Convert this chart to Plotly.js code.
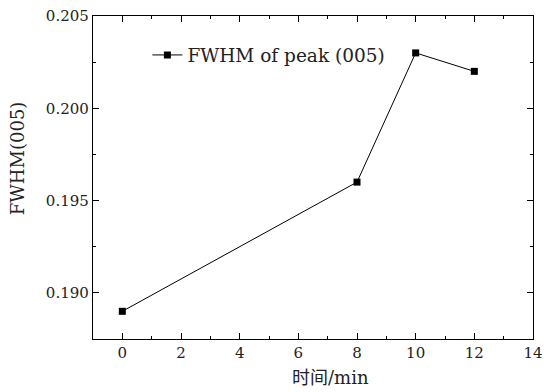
<!DOCTYPE html>
<html><head><meta charset="utf-8">
<script src="https://cdn.plot.ly/plotly-3.0.1.min.js"></script>
<style>html,body{margin:0;padding:0;background:#fff}</style>
</head><body>
<div id="chart" style="width:544px;height:392px"></div>
<script>
const timeMin = [0, 8, 10, 12];
const fwhm = [0.189, 0.196, 0.203, 0.202];
const seriesName = "FWHM of peak (005)";
const xTickVals = [0, 2, 4, 6, 8, 10, 12, 14];
const yTickVals = [0.190, 0.195, 0.200, 0.205];
const yTickText = ["0.190", "0.195", "0.200", "0.205"];
const xTitle = "时间/min";
const yTitle = "FWHM(005)";

const serif = "DejaVu Serif, Noto Sans CJK SC, serif";

const trace = {
  x: timeMin, y: fwhm, name: seriesName, type: "scatter", mode: "lines+markers",
  line: {color: "#000", width: 1},
  marker: {symbol: "square", size: 7, color: "#000"}
};

const axisCommon = {
  showline: true, linecolor: "#000", linewidth: 1.2, mirror: "ticks",
  ticks: "inside", ticklen: 6, tickwidth: 1, tickcolor: "#000",
  showgrid: false, zeroline: false,
  tickfont: {family: serif, size: 15, color: "#222"}
};

const layout = {
  width: 544, height: 392,
  margin: {l: 93, r: 11, t: 16, b: 53},
  paper_bgcolor: "#fff", plot_bgcolor: "#fff",
  showlegend: true,
  legend: {x: 0.1236, y: 0.878, xanchor: "left", yanchor: "middle",
    font: {family: serif, size: 18.5, color: "#222"}, bgcolor: "rgba(0,0,0,0)"},
  xaxis: Object.assign({}, axisCommon, {
    range: [-1, 14], tickvals: xTickVals,
    minor: {dtick: 1, ticks: "inside", ticklen: 3, tickcolor: "#000"}
  }),
  yaxis: Object.assign({}, axisCommon, {
    range: [0.1875, 0.205], tickvals: yTickVals, ticktext: yTickText,
    minor: {dtick: 0.0025, tick0: 0.19, ticks: "inside", ticklen: 3, tickcolor: "#000"}
  }),
  annotations: [{
    text: xTitle, xref: "paper", yref: "paper", x: 0.539, y: -0.118,
    xanchor: "center", yanchor: "middle", showarrow: false,
    font: {family: serif, size: 18, color: "#222"}
  }, {
    text: yTitle, xref: "paper", yref: "paper", x: -0.1727, y: 0.56,
    xanchor: "center", yanchor: "middle", showarrow: false, textangle: -90,
    font: {family: serif, size: 18, color: "#222"}
  }]
};

Plotly.newPlot("chart", [trace], layout, {displayModeBar: false, staticPlot: true});
</script>
</body></html>
